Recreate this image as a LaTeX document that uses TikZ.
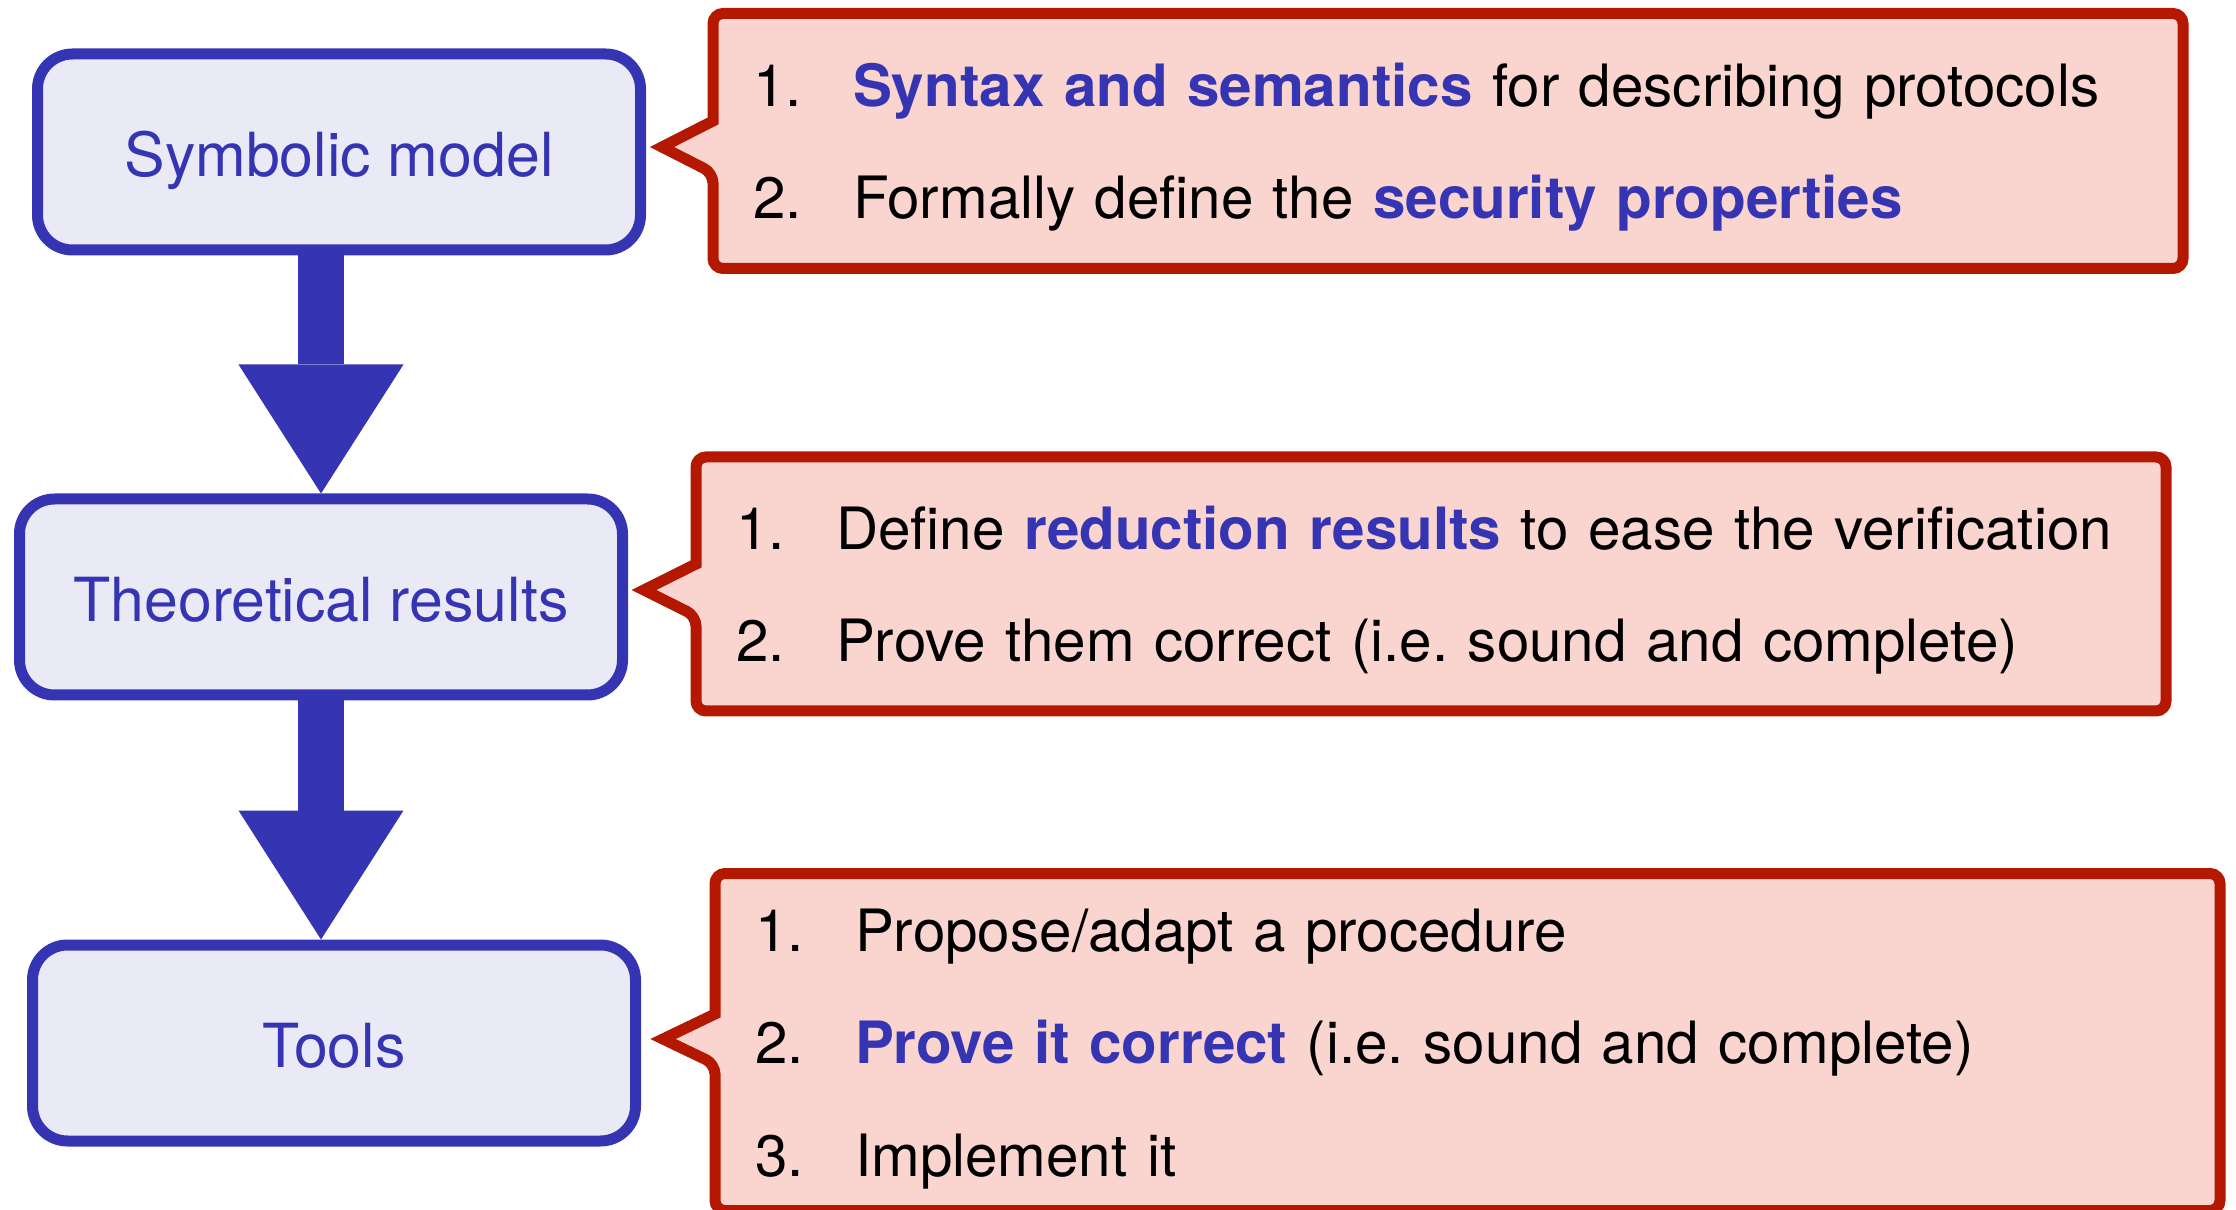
\documentclass[tikz,border=0pt]{standalone}
\usepackage{fontspec}
\setmainfont{TeX Gyre Heros}
\usetikzlibrary{arrows.meta, positioning, calc, backgrounds}

\definecolor{flowblue}{RGB}{53,53,179}
\definecolor{flowfill}{RGB}{234,234,246}
\definecolor{notered}{RGB}{181,24,0}
\definecolor{notefill}{RGB}{250,212,207}

\begin{document}
\begin{tikzpicture}[
  font=\fontsize{17.3}{32}\selectfont,
  stepbox/.style={rectangle, rounded corners=0.35cm, draw=flowblue, fill=flowfill, line width=0.11cm, minimum width=6.03cm, minimum height=1.96cm, text=flowblue, text height=13.8pt, text depth=0pt},
  note/.style={rectangle, inner xsep=0.4cm, inner ysep=0pt, outer sep=0pt, align=left, text width=13.9cm, font=\fontsize{16.6}{32}\selectfont},
  noteline/.style={draw=notered, fill=notefill, line width=0.11cm, line join=miter},
  flowarrow/.style={flowblue, line width=0.46cm, -{Triangle[length=1.29cm, width=1.65cm, line width=0pt]}}
]
\useasboundingbox (0,0) rectangle (22.36,-12.10);

% Steps
\node[stepbox] (sym) at (3.39,-1.52) {Symbolic model};
\node[stepbox, below of=sym, node distance=4.45cm, xshift=-0.18cm] (theo) {Theoretical results};
\node[stepbox, below of=theo, node distance=4.46cm, xshift=0.13cm] (tools) {Tools};

\draw[flowarrow] (sym.south -| theo.north) -- (theo.north);
\draw[flowarrow] (theo.south) -- (tools.north -| theo.south);

% Notes
\node[note, minimum height=2.55cm, right of=sym, node distance=11.09cm, yshift=0.11cm] (note_sym) {%
  \rule{0pt}{16pt}\makebox[1cm][l]{1.}\textcolor{flowblue}{\textbf{Syntax and semantics}} for describing protocols\\
  \makebox[1cm][l]{2.}Formally define the \textcolor{flowblue}{\textbf{security properties}}};
\node[note, minimum height=2.54cm, right of=theo, node distance=11.10cm, yshift=0.13cm] (note_theo) {%
  \rule{0pt}{16pt}\makebox[1cm][l]{1.}Define \textcolor{flowblue}{\textbf{reduction results}} to ease the verification\\
  \makebox[1cm][l]{2.}Prove them correct (i.e.\ sound and complete)};
\node[note, text width=14.25cm, minimum height=3.37cm, right of=tools, node distance=11.335cm, yshift=0.01cm] (note_tools) {%
  \rule{0pt}{16pt}\makebox[1cm][l]{1.}Propose/adapt a procedure\\
  \makebox[1cm][l]{2.}\textcolor{flowblue}{\textbf{Prove it correct}} (i.e.\ sound and complete)\\
  \makebox[1cm][l]{3.}Implement it};

\begin{scope}[on background layer]
\draw[noteline] ($(note_sym.west)+(0,0.20)$) [rounded corners=0.1cm] |- (note_sym.north east) |- (note_sym.south west) -- ($(note_sym.west)+(0,-0.32)$) [sharp corners] -- ($(note_sym.west)+(-0.51,-0.06)$) -- cycle;
\draw[noteline] ($(note_theo.west)+(0,0.20)$) [rounded corners=0.1cm] |- (note_theo.north east) |- (note_theo.south west) -- ($(note_theo.west)+(0,-0.32)$) [sharp corners] -- ($(note_theo.west)+(-0.52,-0.06)$) -- cycle;
\draw[noteline] ($(note_tools.west)+(0,0.28)$) [rounded corners=0.1cm] |- (note_tools.north east) |- (note_tools.south west) -- ($(note_tools.west)+(0,-0.22)$) [sharp corners] -- ($(note_tools.west)+(-0.52,0.03)$) -- cycle;
\end{scope}

\end{tikzpicture}
\end{document}
